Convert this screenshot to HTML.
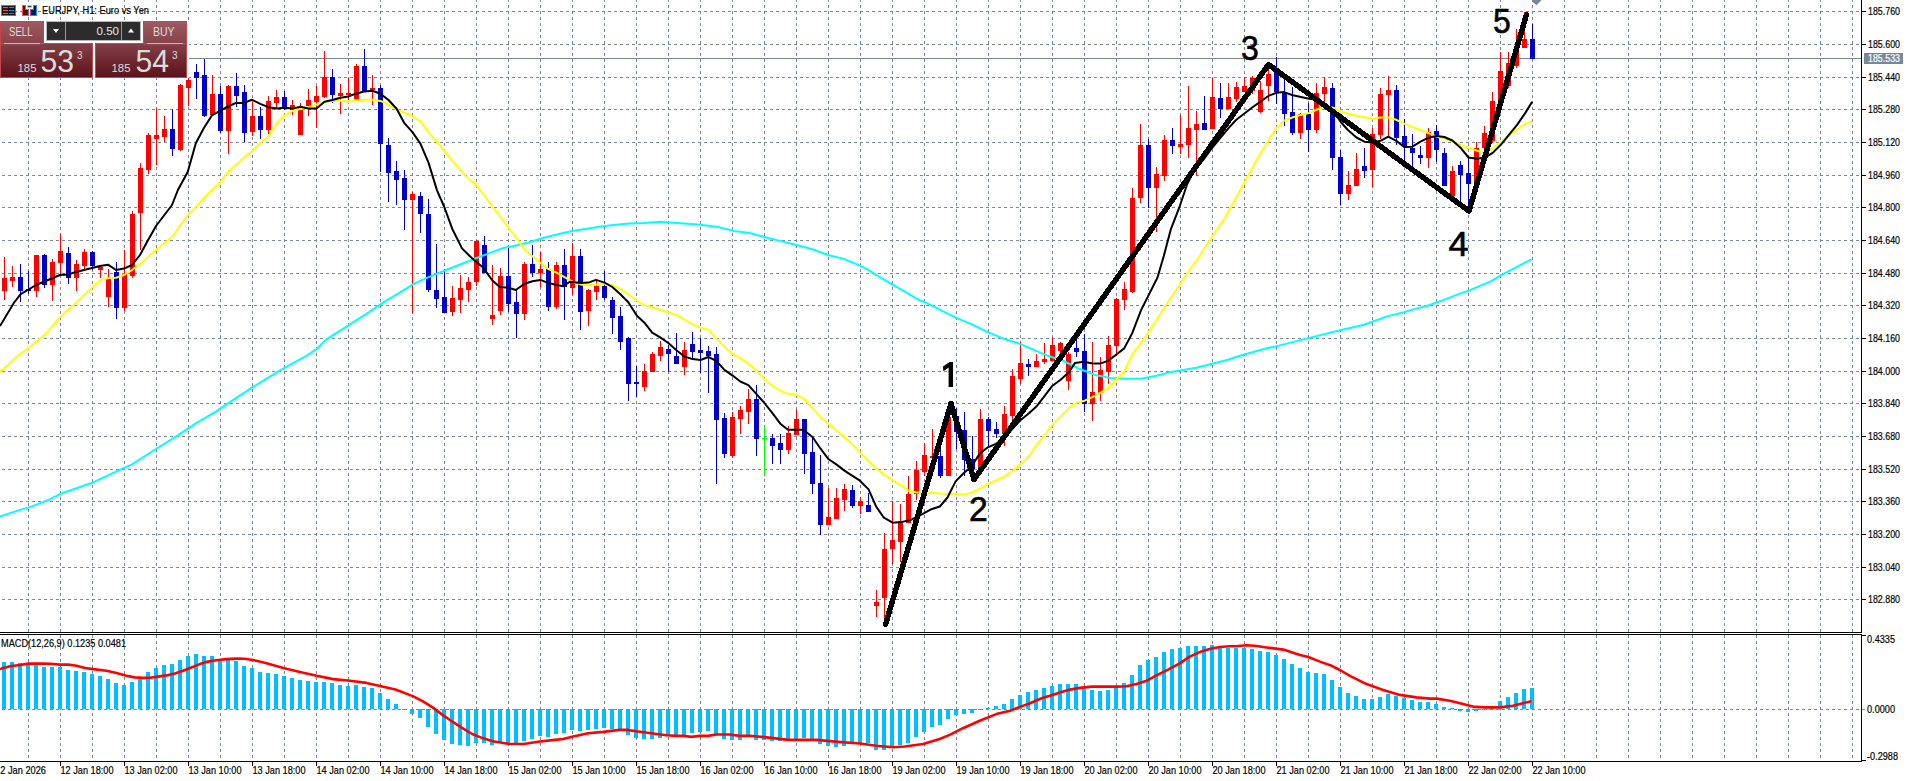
<!DOCTYPE html>
<html><head><meta charset="utf-8"><title>EURJPY H1</title>
<style>html,body{margin:0;padding:0;background:#fff;}body{width:1910px;height:781px;overflow:hidden;font-family:"Liberation Sans", sans-serif;}svg{display:block;}</style>
</head><body>
<svg width="1910" height="781" viewBox="0 0 1910 781"><g stroke="#778899" stroke-width="1" stroke-dasharray="3 3" shape-rendering="crispEdges"><line x1="0" y1="11.5" x2="1861" y2="11.5" stroke-dashoffset="4"/><line x1="0" y1="44.5" x2="1861" y2="44.5" stroke-dashoffset="4"/><line x1="0" y1="77.5" x2="1861" y2="77.5" stroke-dashoffset="4"/><line x1="0" y1="109.5" x2="1861" y2="109.5" stroke-dashoffset="4"/><line x1="0" y1="142.5" x2="1861" y2="142.5" stroke-dashoffset="4"/><line x1="0" y1="175.5" x2="1861" y2="175.5" stroke-dashoffset="4"/><line x1="0" y1="207.5" x2="1861" y2="207.5" stroke-dashoffset="4"/><line x1="0" y1="240.5" x2="1861" y2="240.5" stroke-dashoffset="4"/><line x1="0" y1="273.5" x2="1861" y2="273.5" stroke-dashoffset="4"/><line x1="0" y1="305.5" x2="1861" y2="305.5" stroke-dashoffset="4"/><line x1="0" y1="338.5" x2="1861" y2="338.5" stroke-dashoffset="4"/><line x1="0" y1="371.5" x2="1861" y2="371.5" stroke-dashoffset="4"/><line x1="0" y1="403.5" x2="1861" y2="403.5" stroke-dashoffset="4"/><line x1="0" y1="436.5" x2="1861" y2="436.5" stroke-dashoffset="4"/><line x1="0" y1="469.5" x2="1861" y2="469.5" stroke-dashoffset="4"/><line x1="0" y1="501.5" x2="1861" y2="501.5" stroke-dashoffset="4"/><line x1="0" y1="534.5" x2="1861" y2="534.5" stroke-dashoffset="4"/><line x1="0" y1="567.5" x2="1861" y2="567.5" stroke-dashoffset="4"/><line x1="0" y1="599.5" x2="1861" y2="599.5" stroke-dashoffset="4"/><line x1="0" y1="709.5" x2="1865" y2="709.5" stroke-dashoffset="4"/><line x1="28.5" y1="0" x2="28.5" y2="632" stroke-dashoffset="1"/><line x1="28.5" y1="635" x2="28.5" y2="761" stroke-dashoffset="0"/><line x1="60.5" y1="0" x2="60.5" y2="632" stroke-dashoffset="1"/><line x1="60.5" y1="635" x2="60.5" y2="761" stroke-dashoffset="0"/><line x1="92.5" y1="0" x2="92.5" y2="632" stroke-dashoffset="1"/><line x1="92.5" y1="635" x2="92.5" y2="761" stroke-dashoffset="0"/><line x1="124.5" y1="0" x2="124.5" y2="632" stroke-dashoffset="1"/><line x1="124.5" y1="635" x2="124.5" y2="761" stroke-dashoffset="0"/><line x1="156.5" y1="0" x2="156.5" y2="632" stroke-dashoffset="1"/><line x1="156.5" y1="635" x2="156.5" y2="761" stroke-dashoffset="0"/><line x1="188.5" y1="0" x2="188.5" y2="632" stroke-dashoffset="1"/><line x1="188.5" y1="635" x2="188.5" y2="761" stroke-dashoffset="0"/><line x1="220.5" y1="0" x2="220.5" y2="632" stroke-dashoffset="1"/><line x1="220.5" y1="635" x2="220.5" y2="761" stroke-dashoffset="0"/><line x1="252.5" y1="0" x2="252.5" y2="632" stroke-dashoffset="1"/><line x1="252.5" y1="635" x2="252.5" y2="761" stroke-dashoffset="0"/><line x1="284.5" y1="0" x2="284.5" y2="632" stroke-dashoffset="1"/><line x1="284.5" y1="635" x2="284.5" y2="761" stroke-dashoffset="0"/><line x1="316.5" y1="0" x2="316.5" y2="632" stroke-dashoffset="1"/><line x1="316.5" y1="635" x2="316.5" y2="761" stroke-dashoffset="0"/><line x1="348.5" y1="0" x2="348.5" y2="632" stroke-dashoffset="1"/><line x1="348.5" y1="635" x2="348.5" y2="761" stroke-dashoffset="0"/><line x1="380.5" y1="0" x2="380.5" y2="632" stroke-dashoffset="1"/><line x1="380.5" y1="635" x2="380.5" y2="761" stroke-dashoffset="0"/><line x1="412.5" y1="0" x2="412.5" y2="632" stroke-dashoffset="1"/><line x1="412.5" y1="635" x2="412.5" y2="761" stroke-dashoffset="0"/><line x1="444.5" y1="0" x2="444.5" y2="632" stroke-dashoffset="1"/><line x1="444.5" y1="635" x2="444.5" y2="761" stroke-dashoffset="0"/><line x1="476.5" y1="0" x2="476.5" y2="632" stroke-dashoffset="1"/><line x1="476.5" y1="635" x2="476.5" y2="761" stroke-dashoffset="0"/><line x1="508.5" y1="0" x2="508.5" y2="632" stroke-dashoffset="1"/><line x1="508.5" y1="635" x2="508.5" y2="761" stroke-dashoffset="0"/><line x1="540.5" y1="0" x2="540.5" y2="632" stroke-dashoffset="1"/><line x1="540.5" y1="635" x2="540.5" y2="761" stroke-dashoffset="0"/><line x1="572.5" y1="0" x2="572.5" y2="632" stroke-dashoffset="1"/><line x1="572.5" y1="635" x2="572.5" y2="761" stroke-dashoffset="0"/><line x1="604.5" y1="0" x2="604.5" y2="632" stroke-dashoffset="1"/><line x1="604.5" y1="635" x2="604.5" y2="761" stroke-dashoffset="0"/><line x1="636.5" y1="0" x2="636.5" y2="632" stroke-dashoffset="1"/><line x1="636.5" y1="635" x2="636.5" y2="761" stroke-dashoffset="0"/><line x1="668.5" y1="0" x2="668.5" y2="632" stroke-dashoffset="1"/><line x1="668.5" y1="635" x2="668.5" y2="761" stroke-dashoffset="0"/><line x1="700.5" y1="0" x2="700.5" y2="632" stroke-dashoffset="1"/><line x1="700.5" y1="635" x2="700.5" y2="761" stroke-dashoffset="0"/><line x1="732.5" y1="0" x2="732.5" y2="632" stroke-dashoffset="1"/><line x1="732.5" y1="635" x2="732.5" y2="761" stroke-dashoffset="0"/><line x1="764.5" y1="0" x2="764.5" y2="632" stroke-dashoffset="1"/><line x1="764.5" y1="635" x2="764.5" y2="761" stroke-dashoffset="0"/><line x1="796.5" y1="0" x2="796.5" y2="632" stroke-dashoffset="1"/><line x1="796.5" y1="635" x2="796.5" y2="761" stroke-dashoffset="0"/><line x1="828.5" y1="0" x2="828.5" y2="632" stroke-dashoffset="1"/><line x1="828.5" y1="635" x2="828.5" y2="761" stroke-dashoffset="0"/><line x1="860.5" y1="0" x2="860.5" y2="632" stroke-dashoffset="1"/><line x1="860.5" y1="635" x2="860.5" y2="761" stroke-dashoffset="0"/><line x1="892.5" y1="0" x2="892.5" y2="632" stroke-dashoffset="1"/><line x1="892.5" y1="635" x2="892.5" y2="761" stroke-dashoffset="0"/><line x1="924.5" y1="0" x2="924.5" y2="632" stroke-dashoffset="1"/><line x1="924.5" y1="635" x2="924.5" y2="761" stroke-dashoffset="0"/><line x1="956.5" y1="0" x2="956.5" y2="632" stroke-dashoffset="1"/><line x1="956.5" y1="635" x2="956.5" y2="761" stroke-dashoffset="0"/><line x1="988.5" y1="0" x2="988.5" y2="632" stroke-dashoffset="1"/><line x1="988.5" y1="635" x2="988.5" y2="761" stroke-dashoffset="0"/><line x1="1020.5" y1="0" x2="1020.5" y2="632" stroke-dashoffset="1"/><line x1="1020.5" y1="635" x2="1020.5" y2="761" stroke-dashoffset="0"/><line x1="1052.5" y1="0" x2="1052.5" y2="632" stroke-dashoffset="1"/><line x1="1052.5" y1="635" x2="1052.5" y2="761" stroke-dashoffset="0"/><line x1="1084.5" y1="0" x2="1084.5" y2="632" stroke-dashoffset="1"/><line x1="1084.5" y1="635" x2="1084.5" y2="761" stroke-dashoffset="0"/><line x1="1116.5" y1="0" x2="1116.5" y2="632" stroke-dashoffset="1"/><line x1="1116.5" y1="635" x2="1116.5" y2="761" stroke-dashoffset="0"/><line x1="1148.5" y1="0" x2="1148.5" y2="632" stroke-dashoffset="1"/><line x1="1148.5" y1="635" x2="1148.5" y2="761" stroke-dashoffset="0"/><line x1="1180.5" y1="0" x2="1180.5" y2="632" stroke-dashoffset="1"/><line x1="1180.5" y1="635" x2="1180.5" y2="761" stroke-dashoffset="0"/><line x1="1212.5" y1="0" x2="1212.5" y2="632" stroke-dashoffset="1"/><line x1="1212.5" y1="635" x2="1212.5" y2="761" stroke-dashoffset="0"/><line x1="1244.5" y1="0" x2="1244.5" y2="632" stroke-dashoffset="1"/><line x1="1244.5" y1="635" x2="1244.5" y2="761" stroke-dashoffset="0"/><line x1="1276.5" y1="0" x2="1276.5" y2="632" stroke-dashoffset="1"/><line x1="1276.5" y1="635" x2="1276.5" y2="761" stroke-dashoffset="0"/><line x1="1308.5" y1="0" x2="1308.5" y2="632" stroke-dashoffset="1"/><line x1="1308.5" y1="635" x2="1308.5" y2="761" stroke-dashoffset="0"/><line x1="1340.5" y1="0" x2="1340.5" y2="632" stroke-dashoffset="1"/><line x1="1340.5" y1="635" x2="1340.5" y2="761" stroke-dashoffset="0"/><line x1="1372.5" y1="0" x2="1372.5" y2="632" stroke-dashoffset="1"/><line x1="1372.5" y1="635" x2="1372.5" y2="761" stroke-dashoffset="0"/><line x1="1404.5" y1="0" x2="1404.5" y2="632" stroke-dashoffset="1"/><line x1="1404.5" y1="635" x2="1404.5" y2="761" stroke-dashoffset="0"/><line x1="1436.5" y1="0" x2="1436.5" y2="632" stroke-dashoffset="1"/><line x1="1436.5" y1="635" x2="1436.5" y2="761" stroke-dashoffset="0"/><line x1="1468.5" y1="0" x2="1468.5" y2="632" stroke-dashoffset="1"/><line x1="1468.5" y1="635" x2="1468.5" y2="761" stroke-dashoffset="0"/><line x1="1500.5" y1="0" x2="1500.5" y2="632" stroke-dashoffset="1"/><line x1="1500.5" y1="635" x2="1500.5" y2="761" stroke-dashoffset="0"/><line x1="1532.5" y1="0" x2="1532.5" y2="632" stroke-dashoffset="1"/><line x1="1532.5" y1="635" x2="1532.5" y2="761" stroke-dashoffset="0"/><line x1="1564.5" y1="0" x2="1564.5" y2="632" stroke-dashoffset="1"/><line x1="1564.5" y1="635" x2="1564.5" y2="761" stroke-dashoffset="0"/><line x1="1596.5" y1="0" x2="1596.5" y2="632" stroke-dashoffset="1"/><line x1="1596.5" y1="635" x2="1596.5" y2="761" stroke-dashoffset="0"/><line x1="1628.5" y1="0" x2="1628.5" y2="632" stroke-dashoffset="1"/><line x1="1628.5" y1="635" x2="1628.5" y2="761" stroke-dashoffset="0"/><line x1="1660.5" y1="0" x2="1660.5" y2="632" stroke-dashoffset="1"/><line x1="1660.5" y1="635" x2="1660.5" y2="761" stroke-dashoffset="0"/><line x1="1692.5" y1="0" x2="1692.5" y2="632" stroke-dashoffset="1"/><line x1="1692.5" y1="635" x2="1692.5" y2="761" stroke-dashoffset="0"/><line x1="1724.5" y1="0" x2="1724.5" y2="632" stroke-dashoffset="1"/><line x1="1724.5" y1="635" x2="1724.5" y2="761" stroke-dashoffset="0"/><line x1="1756.5" y1="0" x2="1756.5" y2="632" stroke-dashoffset="1"/><line x1="1756.5" y1="635" x2="1756.5" y2="761" stroke-dashoffset="0"/><line x1="1788.5" y1="0" x2="1788.5" y2="632" stroke-dashoffset="1"/><line x1="1788.5" y1="635" x2="1788.5" y2="761" stroke-dashoffset="0"/><line x1="1820.5" y1="0" x2="1820.5" y2="632" stroke-dashoffset="1"/><line x1="1820.5" y1="635" x2="1820.5" y2="761" stroke-dashoffset="0"/><line x1="1852.5" y1="0" x2="1852.5" y2="632" stroke-dashoffset="1"/><line x1="1852.5" y1="635" x2="1852.5" y2="761" stroke-dashoffset="0"/></g>
<line x1="189" y1="58.5" x2="1861" y2="58.5" stroke="#778899" stroke-width="1" shape-rendering="crispEdges"/>
<g shape-rendering="crispEdges"><rect x="4" y="257" width="1" height="43" fill="#ff0000"/><rect x="2" y="278" width="5" height="13" fill="#ff0000"/><rect x="12" y="266" width="1" height="21" fill="#ff0000"/><rect x="10" y="277" width="5" height="4" fill="#ff0000"/><rect x="20" y="264" width="1" height="38" fill="#0000cd"/><rect x="18" y="277" width="5" height="14" fill="#0000cd"/><rect x="28" y="271" width="1" height="23" fill="#0000cd"/><rect x="26" y="289" width="5" height="2" fill="#0000cd"/><rect x="36" y="255" width="1" height="42" fill="#ff0000"/><rect x="34" y="255" width="5" height="36" fill="#ff0000"/><rect x="44" y="254" width="1" height="34" fill="#0000cd"/><rect x="42" y="255" width="5" height="30" fill="#0000cd"/><rect x="52" y="259" width="1" height="42" fill="#ff0000"/><rect x="50" y="262" width="5" height="23" fill="#ff0000"/><rect x="60" y="234" width="1" height="40" fill="#ff0000"/><rect x="58" y="251" width="5" height="12" fill="#ff0000"/><rect x="68" y="247" width="1" height="37" fill="#0000cd"/><rect x="66" y="253" width="5" height="25" fill="#0000cd"/><rect x="76" y="260" width="1" height="31" fill="#ff0000"/><rect x="74" y="264" width="5" height="14" fill="#ff0000"/><rect x="84" y="249" width="1" height="20" fill="#ff0000"/><rect x="82" y="252" width="5" height="14" fill="#ff0000"/><rect x="92" y="251" width="1" height="19" fill="#0000cd"/><rect x="90" y="252" width="5" height="14" fill="#0000cd"/><rect x="100" y="267" width="1" height="11" fill="#ff0000"/><rect x="98" y="267" width="5" height="3" fill="#ff0000"/><rect x="108" y="269" width="1" height="38" fill="#ff0000"/><rect x="106" y="279" width="5" height="18" fill="#ff0000"/><rect x="116" y="262" width="1" height="57" fill="#0000cd"/><rect x="114" y="272" width="5" height="36" fill="#0000cd"/><rect x="124" y="250" width="1" height="61" fill="#ff0000"/><rect x="122" y="274" width="5" height="34" fill="#ff0000"/><rect x="132" y="211" width="1" height="67" fill="#ff0000"/><rect x="130" y="214" width="5" height="62" fill="#ff0000"/><rect x="140" y="163" width="1" height="87" fill="#ff0000"/><rect x="138" y="168" width="5" height="45" fill="#ff0000"/><rect x="148" y="133" width="1" height="41" fill="#ff0000"/><rect x="146" y="135" width="5" height="35" fill="#ff0000"/><rect x="156" y="108" width="1" height="57" fill="#ff0000"/><rect x="154" y="135" width="5" height="4" fill="#ff0000"/><rect x="164" y="116" width="1" height="26" fill="#ff0000"/><rect x="162" y="129" width="5" height="8" fill="#ff0000"/><rect x="172" y="109" width="1" height="47" fill="#0000cd"/><rect x="170" y="129" width="5" height="20" fill="#0000cd"/><rect x="180" y="84" width="1" height="67" fill="#ff0000"/><rect x="178" y="85" width="5" height="65" fill="#ff0000"/><rect x="188" y="74" width="1" height="32" fill="#ff0000"/><rect x="186" y="80" width="5" height="8" fill="#ff0000"/><rect x="196" y="64" width="1" height="35" fill="#0000cd"/><rect x="194" y="72" width="5" height="6" fill="#0000cd"/><rect x="204" y="59" width="1" height="58" fill="#0000cd"/><rect x="202" y="75" width="5" height="41" fill="#0000cd"/><rect x="212" y="75" width="1" height="40" fill="#ff0000"/><rect x="210" y="94" width="5" height="21" fill="#ff0000"/><rect x="220" y="86" width="1" height="47" fill="#0000cd"/><rect x="218" y="94" width="5" height="37" fill="#0000cd"/><rect x="228" y="85" width="1" height="69" fill="#ff0000"/><rect x="226" y="86" width="5" height="45" fill="#ff0000"/><rect x="236" y="73" width="1" height="34" fill="#0000cd"/><rect x="234" y="86" width="5" height="10" fill="#0000cd"/><rect x="244" y="85" width="1" height="57" fill="#0000cd"/><rect x="242" y="92" width="5" height="41" fill="#0000cd"/><rect x="252" y="102" width="1" height="34" fill="#ff0000"/><rect x="250" y="116" width="5" height="16" fill="#ff0000"/><rect x="260" y="107" width="1" height="32" fill="#0000cd"/><rect x="258" y="116" width="5" height="14" fill="#0000cd"/><rect x="268" y="96" width="1" height="38" fill="#ff0000"/><rect x="266" y="101" width="5" height="29" fill="#ff0000"/><rect x="276" y="90" width="1" height="18" fill="#ff0000"/><rect x="274" y="97" width="5" height="6" fill="#ff0000"/><rect x="284" y="91" width="1" height="19" fill="#0000cd"/><rect x="282" y="97" width="5" height="12" fill="#0000cd"/><rect x="292" y="100" width="1" height="15" fill="#ff0000"/><rect x="290" y="105" width="5" height="5" fill="#ff0000"/><rect x="300" y="103" width="1" height="32" fill="#ff0000"/><rect x="298" y="108" width="5" height="27" fill="#ff0000"/><rect x="308" y="89" width="1" height="27" fill="#ff0000"/><rect x="306" y="100" width="5" height="6" fill="#ff0000"/><rect x="316" y="86" width="1" height="42" fill="#ff0000"/><rect x="314" y="96" width="5" height="6" fill="#ff0000"/><rect x="324" y="51" width="1" height="47" fill="#ff0000"/><rect x="322" y="77" width="5" height="20" fill="#ff0000"/><rect x="332" y="69" width="1" height="34" fill="#0000cd"/><rect x="330" y="77" width="5" height="18" fill="#0000cd"/><rect x="340" y="84" width="1" height="30" fill="#ff0000"/><rect x="338" y="93" width="5" height="3" fill="#ff0000"/><rect x="348" y="78" width="1" height="22" fill="#ff0000"/><rect x="346" y="93" width="5" height="2" fill="#ff0000"/><rect x="356" y="64" width="1" height="36" fill="#ff0000"/><rect x="354" y="66" width="5" height="33" fill="#ff0000"/><rect x="364" y="49" width="1" height="42" fill="#0000cd"/><rect x="362" y="66" width="5" height="25" fill="#0000cd"/><rect x="372" y="75" width="1" height="30" fill="#ff0000"/><rect x="370" y="88" width="5" height="2" fill="#ff0000"/><rect x="380" y="85" width="1" height="87" fill="#0000cd"/><rect x="378" y="88" width="5" height="56" fill="#0000cd"/><rect x="388" y="138" width="1" height="64" fill="#0000cd"/><rect x="386" y="145" width="5" height="28" fill="#0000cd"/><rect x="396" y="161" width="1" height="44" fill="#0000cd"/><rect x="394" y="171" width="5" height="9" fill="#0000cd"/><rect x="404" y="170" width="1" height="60" fill="#0000cd"/><rect x="402" y="178" width="5" height="22" fill="#0000cd"/><rect x="412" y="192" width="1" height="121" fill="#ff0000"/><rect x="410" y="194" width="5" height="6" fill="#ff0000"/><rect x="420" y="192" width="1" height="41" fill="#0000cd"/><rect x="418" y="196" width="5" height="18" fill="#0000cd"/><rect x="428" y="199" width="1" height="93" fill="#0000cd"/><rect x="426" y="214" width="5" height="76" fill="#0000cd"/><rect x="436" y="244" width="1" height="64" fill="#0000cd"/><rect x="434" y="290" width="5" height="9" fill="#0000cd"/><rect x="444" y="269" width="1" height="44" fill="#0000cd"/><rect x="442" y="297" width="5" height="16" fill="#0000cd"/><rect x="452" y="286" width="1" height="30" fill="#ff0000"/><rect x="450" y="298" width="5" height="14" fill="#ff0000"/><rect x="460" y="275" width="1" height="38" fill="#ff0000"/><rect x="458" y="288" width="5" height="12" fill="#ff0000"/><rect x="468" y="277" width="1" height="25" fill="#ff0000"/><rect x="466" y="282" width="5" height="8" fill="#ff0000"/><rect x="476" y="240" width="1" height="46" fill="#ff0000"/><rect x="474" y="241" width="5" height="41" fill="#ff0000"/><rect x="484" y="236" width="1" height="37" fill="#0000cd"/><rect x="482" y="245" width="5" height="28" fill="#0000cd"/><rect x="492" y="265" width="1" height="60" fill="#ff0000"/><rect x="490" y="315" width="5" height="4" fill="#ff0000"/><rect x="500" y="268" width="1" height="47" fill="#ff0000"/><rect x="498" y="276" width="5" height="35" fill="#ff0000"/><rect x="508" y="246" width="1" height="66" fill="#0000cd"/><rect x="506" y="276" width="5" height="28" fill="#0000cd"/><rect x="516" y="290" width="1" height="48" fill="#0000cd"/><rect x="514" y="302" width="5" height="12" fill="#0000cd"/><rect x="524" y="262" width="1" height="58" fill="#ff0000"/><rect x="522" y="264" width="5" height="50" fill="#ff0000"/><rect x="532" y="245" width="1" height="32" fill="#0000cd"/><rect x="530" y="264" width="5" height="9" fill="#0000cd"/><rect x="540" y="252" width="1" height="35" fill="#ff0000"/><rect x="538" y="269" width="5" height="4" fill="#ff0000"/><rect x="548" y="262" width="1" height="49" fill="#0000cd"/><rect x="546" y="269" width="5" height="38" fill="#0000cd"/><rect x="556" y="262" width="1" height="47" fill="#ff0000"/><rect x="554" y="265" width="5" height="42" fill="#ff0000"/><rect x="564" y="249" width="1" height="71" fill="#0000cd"/><rect x="562" y="265" width="5" height="22" fill="#0000cd"/><rect x="572" y="243" width="1" height="52" fill="#ff0000"/><rect x="570" y="256" width="5" height="32" fill="#ff0000"/><rect x="580" y="249" width="1" height="81" fill="#0000cd"/><rect x="578" y="256" width="5" height="56" fill="#0000cd"/><rect x="588" y="289" width="1" height="37" fill="#ff0000"/><rect x="586" y="290" width="5" height="21" fill="#ff0000"/><rect x="596" y="281" width="1" height="19" fill="#ff0000"/><rect x="594" y="286" width="5" height="6" fill="#ff0000"/><rect x="604" y="271" width="1" height="29" fill="#0000cd"/><rect x="602" y="286" width="5" height="12" fill="#0000cd"/><rect x="612" y="297" width="1" height="37" fill="#0000cd"/><rect x="610" y="300" width="5" height="18" fill="#0000cd"/><rect x="620" y="307" width="1" height="43" fill="#0000cd"/><rect x="618" y="316" width="5" height="26" fill="#0000cd"/><rect x="628" y="337" width="1" height="64" fill="#0000cd"/><rect x="626" y="338" width="5" height="46" fill="#0000cd"/><rect x="636" y="366" width="1" height="31" fill="#0000cd"/><rect x="634" y="382" width="5" height="2" fill="#0000cd"/><rect x="644" y="364" width="1" height="27" fill="#ff0000"/><rect x="642" y="371" width="5" height="16" fill="#ff0000"/><rect x="652" y="352" width="1" height="20" fill="#ff0000"/><rect x="650" y="354" width="5" height="18" fill="#ff0000"/><rect x="660" y="341" width="1" height="20" fill="#ff0000"/><rect x="658" y="347" width="5" height="9" fill="#ff0000"/><rect x="668" y="345" width="1" height="27" fill="#0000cd"/><rect x="666" y="349" width="5" height="5" fill="#0000cd"/><rect x="676" y="333" width="1" height="31" fill="#0000cd"/><rect x="674" y="356" width="5" height="8" fill="#0000cd"/><rect x="684" y="342" width="1" height="33" fill="#ff0000"/><rect x="682" y="350" width="5" height="17" fill="#ff0000"/><rect x="692" y="332" width="1" height="26" fill="#0000cd"/><rect x="690" y="344" width="5" height="8" fill="#0000cd"/><rect x="700" y="338" width="1" height="35" fill="#0000cd"/><rect x="698" y="350" width="5" height="3" fill="#0000cd"/><rect x="708" y="346" width="1" height="47" fill="#0000cd"/><rect x="706" y="351" width="5" height="5" fill="#0000cd"/><rect x="716" y="347" width="1" height="137" fill="#0000cd"/><rect x="714" y="354" width="5" height="66" fill="#0000cd"/><rect x="724" y="413" width="1" height="45" fill="#0000cd"/><rect x="722" y="418" width="5" height="36" fill="#0000cd"/><rect x="732" y="412" width="1" height="46" fill="#ff0000"/><rect x="730" y="417" width="5" height="39" fill="#ff0000"/><rect x="740" y="406" width="1" height="28" fill="#ff0000"/><rect x="738" y="410" width="5" height="9" fill="#ff0000"/><rect x="748" y="389" width="1" height="35" fill="#ff0000"/><rect x="746" y="399" width="5" height="13" fill="#ff0000"/><rect x="756" y="385" width="1" height="71" fill="#0000cd"/><rect x="754" y="399" width="5" height="40" fill="#0000cd"/><rect x="764" y="426" width="1" height="50" fill="#00ff00"/><rect x="762" y="438" width="5" height="1" fill="#00ff00"/><rect x="772" y="434" width="1" height="30" fill="#0000cd"/><rect x="770" y="438" width="5" height="8" fill="#0000cd"/><rect x="780" y="434" width="1" height="30" fill="#0000cd"/><rect x="778" y="443" width="5" height="7" fill="#0000cd"/><rect x="788" y="426" width="1" height="28" fill="#ff0000"/><rect x="786" y="433" width="5" height="17" fill="#ff0000"/><rect x="796" y="409" width="1" height="26" fill="#ff0000"/><rect x="794" y="419" width="5" height="16" fill="#ff0000"/><rect x="804" y="419" width="1" height="55" fill="#0000cd"/><rect x="802" y="419" width="5" height="35" fill="#0000cd"/><rect x="812" y="437" width="1" height="57" fill="#0000cd"/><rect x="810" y="452" width="5" height="32" fill="#0000cd"/><rect x="820" y="455" width="1" height="80" fill="#0000cd"/><rect x="818" y="483" width="5" height="42" fill="#0000cd"/><rect x="828" y="488" width="1" height="37" fill="#ff0000"/><rect x="826" y="517" width="5" height="8" fill="#ff0000"/><rect x="836" y="488" width="1" height="31" fill="#ff0000"/><rect x="834" y="498" width="5" height="21" fill="#ff0000"/><rect x="844" y="484" width="1" height="27" fill="#ff0000"/><rect x="842" y="489" width="5" height="11" fill="#ff0000"/><rect x="852" y="485" width="1" height="23" fill="#0000cd"/><rect x="850" y="490" width="5" height="16" fill="#0000cd"/><rect x="860" y="497" width="1" height="17" fill="#ff0000"/><rect x="858" y="501" width="5" height="5" fill="#ff0000"/><rect x="868" y="493" width="1" height="19" fill="#0000cd"/><rect x="866" y="505" width="5" height="7" fill="#0000cd"/><rect x="876" y="590" width="1" height="27" fill="#ff0000"/><rect x="874" y="602" width="5" height="4" fill="#ff0000"/><rect x="884" y="533" width="1" height="93" fill="#ff0000"/><rect x="882" y="549" width="5" height="49" fill="#ff0000"/><rect x="892" y="501" width="1" height="63" fill="#ff0000"/><rect x="890" y="540" width="5" height="9" fill="#ff0000"/><rect x="900" y="504" width="1" height="58" fill="#ff0000"/><rect x="898" y="521" width="5" height="21" fill="#ff0000"/><rect x="908" y="476" width="1" height="47" fill="#ff0000"/><rect x="906" y="494" width="5" height="29" fill="#ff0000"/><rect x="916" y="461" width="1" height="39" fill="#ff0000"/><rect x="914" y="470" width="5" height="24" fill="#ff0000"/><rect x="924" y="443" width="1" height="33" fill="#ff0000"/><rect x="922" y="455" width="5" height="17" fill="#ff0000"/><rect x="932" y="429" width="1" height="31" fill="#ff0000"/><rect x="930" y="456" width="5" height="2" fill="#ff0000"/><rect x="940" y="447" width="1" height="31" fill="#0000cd"/><rect x="938" y="456" width="5" height="20" fill="#0000cd"/><rect x="948" y="414" width="1" height="62" fill="#ff0000"/><rect x="946" y="417" width="5" height="59" fill="#ff0000"/><rect x="956" y="408" width="1" height="41" fill="#0000cd"/><rect x="954" y="416" width="5" height="16" fill="#0000cd"/><rect x="964" y="412" width="1" height="64" fill="#0000cd"/><rect x="962" y="430" width="5" height="30" fill="#0000cd"/><rect x="972" y="436" width="1" height="33" fill="#0000cd"/><rect x="970" y="459" width="5" height="10" fill="#0000cd"/><rect x="980" y="409" width="1" height="59" fill="#ff0000"/><rect x="978" y="419" width="5" height="49" fill="#ff0000"/><rect x="988" y="417" width="1" height="29" fill="#0000cd"/><rect x="986" y="419" width="5" height="12" fill="#0000cd"/><rect x="996" y="422" width="1" height="16" fill="#0000cd"/><rect x="994" y="429" width="5" height="5" fill="#0000cd"/><rect x="1004" y="406" width="1" height="40" fill="#ff0000"/><rect x="1002" y="414" width="5" height="20" fill="#ff0000"/><rect x="1012" y="369" width="1" height="53" fill="#ff0000"/><rect x="1010" y="376" width="5" height="40" fill="#ff0000"/><rect x="1020" y="342" width="1" height="42" fill="#ff0000"/><rect x="1018" y="363" width="5" height="16" fill="#ff0000"/><rect x="1028" y="359" width="1" height="17" fill="#0000cd"/><rect x="1026" y="364" width="5" height="3" fill="#0000cd"/><rect x="1036" y="354" width="1" height="13" fill="#ff0000"/><rect x="1034" y="361" width="5" height="6" fill="#ff0000"/><rect x="1044" y="343" width="1" height="21" fill="#ff0000"/><rect x="1042" y="359" width="5" height="3" fill="#ff0000"/><rect x="1052" y="337" width="1" height="24" fill="#ff0000"/><rect x="1050" y="345" width="5" height="16" fill="#ff0000"/><rect x="1060" y="342" width="1" height="12" fill="#ff0000"/><rect x="1058" y="343" width="5" height="8" fill="#ff0000"/><rect x="1068" y="352" width="1" height="38" fill="#ff0000"/><rect x="1066" y="354" width="5" height="27" fill="#ff0000"/><rect x="1076" y="331" width="1" height="26" fill="#0000cd"/><rect x="1074" y="348" width="5" height="4" fill="#0000cd"/><rect x="1084" y="334" width="1" height="78" fill="#0000cd"/><rect x="1082" y="351" width="5" height="53" fill="#0000cd"/><rect x="1092" y="342" width="1" height="79" fill="#ff0000"/><rect x="1090" y="392" width="5" height="12" fill="#ff0000"/><rect x="1100" y="357" width="1" height="44" fill="#ff0000"/><rect x="1098" y="370" width="5" height="23" fill="#ff0000"/><rect x="1108" y="336" width="1" height="48" fill="#ff0000"/><rect x="1106" y="345" width="5" height="27" fill="#ff0000"/><rect x="1116" y="298" width="1" height="55" fill="#ff0000"/><rect x="1114" y="299" width="5" height="47" fill="#ff0000"/><rect x="1124" y="282" width="1" height="28" fill="#ff0000"/><rect x="1122" y="289" width="5" height="11" fill="#ff0000"/><rect x="1132" y="188" width="1" height="105" fill="#ff0000"/><rect x="1130" y="198" width="5" height="94" fill="#ff0000"/><rect x="1140" y="124" width="1" height="79" fill="#ff0000"/><rect x="1138" y="145" width="5" height="53" fill="#ff0000"/><rect x="1148" y="139" width="1" height="69" fill="#0000cd"/><rect x="1146" y="145" width="5" height="43" fill="#0000cd"/><rect x="1156" y="167" width="1" height="65" fill="#ff0000"/><rect x="1154" y="174" width="5" height="14" fill="#ff0000"/><rect x="1164" y="135" width="1" height="46" fill="#ff0000"/><rect x="1162" y="140" width="5" height="36" fill="#ff0000"/><rect x="1172" y="128" width="1" height="26" fill="#0000cd"/><rect x="1170" y="140" width="5" height="6" fill="#0000cd"/><rect x="1180" y="115" width="1" height="39" fill="#ff0000"/><rect x="1178" y="144" width="5" height="3" fill="#ff0000"/><rect x="1188" y="86" width="1" height="72" fill="#ff0000"/><rect x="1186" y="128" width="5" height="17" fill="#ff0000"/><rect x="1196" y="111" width="1" height="65" fill="#ff0000"/><rect x="1194" y="124" width="5" height="6" fill="#ff0000"/><rect x="1204" y="96" width="1" height="34" fill="#0000cd"/><rect x="1202" y="123" width="5" height="7" fill="#0000cd"/><rect x="1212" y="78" width="1" height="51" fill="#ff0000"/><rect x="1210" y="97" width="5" height="32" fill="#ff0000"/><rect x="1220" y="83" width="1" height="35" fill="#0000cd"/><rect x="1218" y="98" width="5" height="11" fill="#0000cd"/><rect x="1228" y="83" width="1" height="26" fill="#ff0000"/><rect x="1226" y="97" width="5" height="12" fill="#ff0000"/><rect x="1236" y="82" width="1" height="20" fill="#ff0000"/><rect x="1234" y="87" width="5" height="12" fill="#ff0000"/><rect x="1244" y="77" width="1" height="15" fill="#ff0000"/><rect x="1242" y="86" width="5" height="6" fill="#ff0000"/><rect x="1252" y="76" width="1" height="18" fill="#ff0000"/><rect x="1250" y="78" width="5" height="13" fill="#ff0000"/><rect x="1260" y="81" width="1" height="32" fill="#ff0000"/><rect x="1258" y="90" width="5" height="22" fill="#ff0000"/><rect x="1268" y="68" width="1" height="33" fill="#ff0000"/><rect x="1266" y="74" width="5" height="12" fill="#ff0000"/><rect x="1276" y="57" width="1" height="47" fill="#0000cd"/><rect x="1274" y="70" width="5" height="22" fill="#0000cd"/><rect x="1284" y="77" width="1" height="49" fill="#0000cd"/><rect x="1282" y="92" width="5" height="22" fill="#0000cd"/><rect x="1292" y="87" width="1" height="48" fill="#0000cd"/><rect x="1290" y="112" width="5" height="21" fill="#0000cd"/><rect x="1300" y="113" width="1" height="26" fill="#ff0000"/><rect x="1298" y="114" width="5" height="19" fill="#ff0000"/><rect x="1308" y="103" width="1" height="49" fill="#0000cd"/><rect x="1306" y="114" width="5" height="16" fill="#0000cd"/><rect x="1316" y="83" width="1" height="50" fill="#ff0000"/><rect x="1314" y="93" width="5" height="37" fill="#ff0000"/><rect x="1324" y="77" width="1" height="32" fill="#ff0000"/><rect x="1322" y="87" width="5" height="7" fill="#ff0000"/><rect x="1332" y="83" width="1" height="87" fill="#0000cd"/><rect x="1330" y="88" width="5" height="70" fill="#0000cd"/><rect x="1340" y="150" width="1" height="55" fill="#0000cd"/><rect x="1338" y="157" width="5" height="37" fill="#0000cd"/><rect x="1348" y="171" width="1" height="29" fill="#ff0000"/><rect x="1346" y="185" width="5" height="9" fill="#ff0000"/><rect x="1356" y="153" width="1" height="33" fill="#ff0000"/><rect x="1354" y="169" width="5" height="17" fill="#ff0000"/><rect x="1364" y="148" width="1" height="30" fill="#0000cd"/><rect x="1362" y="166" width="5" height="5" fill="#0000cd"/><rect x="1372" y="128" width="1" height="59" fill="#ff0000"/><rect x="1370" y="134" width="5" height="36" fill="#ff0000"/><rect x="1380" y="88" width="1" height="51" fill="#ff0000"/><rect x="1378" y="94" width="5" height="41" fill="#ff0000"/><rect x="1388" y="76" width="1" height="62" fill="#ff0000"/><rect x="1386" y="90" width="5" height="5" fill="#ff0000"/><rect x="1396" y="85" width="1" height="60" fill="#0000cd"/><rect x="1394" y="90" width="5" height="48" fill="#0000cd"/><rect x="1404" y="119" width="1" height="41" fill="#0000cd"/><rect x="1402" y="136" width="5" height="10" fill="#0000cd"/><rect x="1412" y="134" width="1" height="32" fill="#0000cd"/><rect x="1410" y="148" width="5" height="5" fill="#0000cd"/><rect x="1420" y="146" width="1" height="18" fill="#0000cd"/><rect x="1418" y="155" width="5" height="3" fill="#0000cd"/><rect x="1428" y="128" width="1" height="40" fill="#ff0000"/><rect x="1426" y="132" width="5" height="26" fill="#ff0000"/><rect x="1436" y="125" width="1" height="37" fill="#0000cd"/><rect x="1434" y="131" width="5" height="19" fill="#0000cd"/><rect x="1444" y="148" width="1" height="38" fill="#0000cd"/><rect x="1442" y="153" width="5" height="33" fill="#0000cd"/><rect x="1452" y="166" width="1" height="32" fill="#ff0000"/><rect x="1450" y="171" width="5" height="25" fill="#ff0000"/><rect x="1460" y="161" width="1" height="42" fill="#0000cd"/><rect x="1458" y="165" width="5" height="10" fill="#0000cd"/><rect x="1468" y="156" width="1" height="52" fill="#0000cd"/><rect x="1466" y="173" width="5" height="11" fill="#0000cd"/><rect x="1476" y="142" width="1" height="43" fill="#ff0000"/><rect x="1474" y="148" width="5" height="35" fill="#ff0000"/><rect x="1484" y="126" width="1" height="24" fill="#ff0000"/><rect x="1482" y="133" width="5" height="15" fill="#ff0000"/><rect x="1492" y="92" width="1" height="51" fill="#ff0000"/><rect x="1490" y="101" width="5" height="40" fill="#ff0000"/><rect x="1500" y="52" width="1" height="51" fill="#ff0000"/><rect x="1498" y="71" width="5" height="30" fill="#ff0000"/><rect x="1508" y="52" width="1" height="36" fill="#ff0000"/><rect x="1506" y="63" width="5" height="23" fill="#ff0000"/><rect x="1516" y="29" width="1" height="39" fill="#ff0000"/><rect x="1514" y="46" width="5" height="20" fill="#ff0000"/><rect x="1524" y="12" width="1" height="36" fill="#ff0000"/><rect x="1522" y="39" width="5" height="9" fill="#ff0000"/><rect x="1532" y="24" width="1" height="35" fill="#0000cd"/><rect x="1530" y="39" width="5" height="20" fill="#0000cd"/></g>
<polyline points="0.0,516.6 18.4,510.4 29.2,507.4 49.2,499.7 61.4,493.5 92.2,482.8 122.9,468.4 132.1,464.4 153.6,450.5 178.2,435.2 196.6,422.9 215.0,412.1 227.3,403.8 251.9,387.6 279.6,370.7 307.2,355.3 316.4,349.2 325.7,339.9 347.2,326.1 368.7,312.3 385.0,301.3 399.3,292.8 413.7,283.9 428.0,277.4 444.1,270.8 460.3,264.5 474.6,258.8 488.9,253.4 503.3,248.0 515.0,245.8 529.3,242.3 543.7,237.8 558.0,234.2 572.3,231.1 586.7,228.8 601.0,226.5 615.4,224.7 629.7,223.4 644.0,222.9 660.5,221.7 676.2,223.0 691.9,224.1 702.4,224.9 718.0,227.0 733.8,230.9 749.5,233.0 765.2,237.2 780.9,241.1 796.6,245.0 812.3,249.2 828.0,255.0 843.7,258.9 859.4,265.4 867.3,269.4 877.7,275.9 893.5,285.1 909.2,294.2 917.0,299.0 930.1,304.7 943.2,311.3 956.3,317.8 972.0,324.3 987.7,332.2 1003.4,338.7 1016.5,342.7 1032.2,349.2 1047.9,355.8 1063.6,361.0 1079.3,368.8 1095.0,374.9 1110.7,378.0 1126.4,378.8 1142.1,378.5 1156.8,375.7 1171.4,371.9 1196.5,367.7 1228.0,359.8 1238.4,356.2 1265.7,348.5 1276.1,346.4 1307.5,338.4 1339.0,330.5 1364.1,324.8 1387.1,316.4 1403.9,312.3 1414.3,309.1 1429.0,305.3 1445.8,299.1 1460.4,293.4 1468.8,290.7 1491.8,280.8 1500.2,275.6 1531.6,259.3" fill="none" stroke="#00ffff" stroke-width="2" stroke-linejoin="round"/>
<polyline points="0.0,372.2 18.4,355.3 29.2,347.6 46.1,333.8 60.0,317.0 76.0,303.0 92.0,287.6 100.0,280.6 108.0,278.0 116.0,277.7 124.0,275.0 132.0,270.0 140.0,264.0 156.0,250.0 172.0,237.0 187.0,216.0 212.0,190.0 220.0,182.6 228.0,171.9 236.0,164.7 244.0,157.5 252.0,151.3 260.0,143.2 268.4,136.8 276.5,123.3 284.6,115.3 292.6,110.8 300.3,109.0 308.4,107.2 316.5,104.5 324.5,101.8 332.4,100.9 340.5,100.6 348.2,101.8 356.4,100.6 364.3,99.7 372.4,99.7 380.4,100.9 388.5,104.5 396.6,109.7 412.4,116.0 420.5,121.4 428.5,132.1 437.0,142.0 453.1,161.7 467.4,177.8 476.4,185.0 492.5,206.5 508.7,228.0 515.0,236.0 524.5,249.4 532.4,256.2 540.4,262.9 548.5,269.1 556.6,272.7 564.5,277.2 572.3,281.7 580.6,284.4 588.5,285.3 596.5,284.4 604.6,283.5 612.3,284.9 620.4,288.9 628.3,294.2 636.9,300.5 645.0,305.4 652.5,307.2 668.3,312.5 676.5,314.7 684.4,319.7 692.5,324.2 700.6,327.8 708.4,329.6 716.3,338.5 724.4,346.6 732.3,353.8 740.3,358.2 748.4,363.6 756.5,370.8 764.4,378.9 772.2,385.7 780.3,390.5 787.0,393.6 796.0,394.5 804.1,399.0 812.2,407.9 820.2,416.9 828.3,423.7 836.3,430.3 844.4,437.5 850.0,442.3 867.5,460.0 876.3,468.7 891.5,479.6 902.4,486.1 908.0,490.4 916.1,492.2 924.2,493.0 932.3,493.0 940.3,493.6 948.4,494.0 956.5,494.0 964.5,494.3 971.7,493.0 979.7,488.6 987.8,484.1 995.9,480.5 1003.9,476.9 1012.0,471.5 1020.0,464.4 1028.1,457.2 1036.2,445.6 1040.8,440.0 1053.4,423.7 1068.6,408.4 1076.7,402.5 1084.7,400.7 1092.8,396.8 1100.9,392.3 1108.0,388.2 1116.1,379.7 1124.2,371.7 1132.2,354.7 1145.0,337.6 1162.9,310.0 1182.0,281.0 1199.6,256.0 1212.2,236.3 1224.7,218.4 1235.4,198.7 1244.4,182.5 1257.9,157.5 1275.8,128.9 1283.9,120.8 1292.9,117.2 1300.9,114.9 1309.0,113.1 1317.0,109.5 1325.1,106.5 1333.2,107.7 1340.8,111.6 1356.5,115.7 1372.5,118.7 1380.5,117.5 1388.2,117.5 1396.3,119.8 1404.4,123.8 1412.4,127.0 1420.5,130.0 1428.6,133.1 1436.6,136.7 1444.3,138.5 1452.4,141.5 1460.5,145.0 1468.5,148.0 1476.6,150.5 1483.8,152.9 1492.7,148.4 1500.8,142.1 1508.9,135.8 1516.9,129.6 1525.0,124.2 1532.2,121.1" fill="none" stroke="#ffff00" stroke-width="2" stroke-linejoin="round"/>
<polyline points="0.0,326.1 13.8,303.0 20.4,294.4 36.0,285.0 60.0,275.0 68.0,274.5 76.0,272.0 92.0,268.0 100.0,266.0 108.0,264.7 116.0,270.0 124.0,268.6 132.0,265.0 140.0,255.0 147.0,242.0 156.0,226.0 172.0,205.0 177.9,190.0 187.7,171.9 195.8,143.2 203.9,128.0 211.9,115.4 220.0,110.9 228.0,106.5 236.0,102.9 244.0,102.9 252.0,99.8 260.3,103.8 268.4,107.2 276.5,108.6 284.6,107.7 292.6,108.6 300.3,106.7 308.4,108.5 316.5,108.5 324.5,101.8 332.4,100.0 340.5,97.7 348.2,96.5 356.4,93.4 364.3,91.6 372.4,90.7 380.4,93.8 388.5,100.0 396.6,108.8 404.4,123.2 412.4,132.1 420.5,143.8 428.5,162.6 437.0,190.4 444.1,206.5 452.2,228.7 462.0,248.4 471.0,257.3 482.7,267.2 492.5,280.6 499.7,286.9 508.7,287.8 515.8,290.0 524.5,283.8 532.4,281.3 540.4,279.9 548.5,283.1 556.6,284.9 563.4,286.2 569.7,281.7 580.6,283.1 588.5,282.6 596.0,279.9 604.6,282.6 612.3,287.0 620.4,294.2 628.3,302.3 636.9,315.7 645.0,323.3 652.2,332.6 660.6,337.6 668.3,343.0 676.5,350.2 684.4,356.5 692.5,359.1 700.6,360.0 708.4,357.0 716.3,360.9 724.4,369.9 732.3,375.3 740.3,381.5 748.4,385.1 756.5,394.1 764.4,403.0 772.2,412.9 780.3,423.7 788.0,429.8 803.2,429.8 812.5,437.0 820.2,448.2 828.3,459.0 836.3,464.4 844.4,470.6 859.9,480.7 868.6,489.4 876.3,506.8 883.9,517.7 892.6,522.7 901.3,522.1 910.8,519.9 923.3,513.7 931.4,509.2 939.8,506.5 947.5,497.5 955.6,481.4 963.6,473.3 971.7,466.2 979.7,453.6 987.8,447.3 995.9,443.8 1003.9,438.4 1012.0,429.4 1020.0,420.5 1029.0,413.3 1036.4,406.6 1052.5,385.7 1060.6,379.7 1068.6,372.6 1074.9,363.1 1083.9,361.8 1092.5,363.6 1100.0,363.6 1108.0,360.9 1116.1,354.7 1124.2,348.4 1132.2,333.2 1141.2,309.9 1157.5,277.5 1163.8,256.0 1170.9,229.1 1179.9,205.8 1187.1,184.3 1194.2,170.0 1204.0,159.0 1212.0,148.0 1220.8,137.3 1228.5,128.2 1236.0,120.0 1252.5,107.3 1268.7,95.7 1276.7,92.7 1283.9,92.1 1292.9,95.2 1300.9,97.0 1309.0,98.7 1317.0,99.8 1325.1,103.8 1333.2,110.9 1340.8,122.0 1347.9,130.0 1356.5,137.5 1364.4,141.7 1372.5,142.6 1380.5,140.8 1388.2,136.7 1396.3,140.8 1404.4,147.1 1412.4,146.7 1420.5,141.7 1428.6,137.7 1436.6,136.0 1444.3,137.0 1452.4,140.5 1460.5,147.7 1468.5,157.5 1476.6,158.8 1484.7,157.7 1492.7,152.9 1500.8,144.8 1508.9,134.9 1516.9,125.1 1525.0,113.4 1532.2,101.8" fill="none" stroke="#000000" stroke-width="2" stroke-linejoin="round"/>
<polyline points="885.5,624.5 951.0,403.5 974.0,479.5 1268.5,64.5 1469.0,211.0 1526.5,14.5" fill="none" stroke="#000" stroke-width="5.5" stroke-linejoin="round" stroke-linecap="round" shape-rendering="crispEdges"/>
<text transform="translate(969,521) scale(0.95,1)" font-family='"Liberation Sans", sans-serif' font-size="35.5" fill="#000" stroke="#000" stroke-width="0.65">2</text>
<text transform="translate(1241,60) scale(0.9,1)" font-family='"Liberation Sans", sans-serif' font-size="35.5" fill="#000" stroke="#000" stroke-width="0.65">3</text>
<text transform="translate(1448.5,256) scale(1.02,1)" font-family='"Liberation Sans", sans-serif' font-size="35.5" fill="#000" stroke="#000" stroke-width="0.65">4</text>
<text transform="translate(1493,33) scale(0.9,1)" font-family='"Liberation Sans", sans-serif' font-size="35.5" fill="#000" stroke="#000" stroke-width="0.65">5</text>
<path d="M948.6,387 L948.6,367.6 L943.4,371.3 L943,366.6 L949.6,362 L953,362 L953,387 Z" fill="#000"/>
<polygon points="1532,0 1541.2,0 1541.2,0.6 1536.6,5.2 1532,1.4" fill="#778899"/>
<g fill="#00bfff" shape-rendering="crispEdges"><rect x="2" y="662" width="4" height="47"/><rect x="10" y="662" width="4" height="47"/><rect x="18" y="663" width="4" height="46"/><rect x="26" y="664" width="4" height="45"/><rect x="34" y="665" width="4" height="44"/><rect x="42" y="667" width="4" height="42"/><rect x="50" y="667" width="4" height="42"/><rect x="58" y="667" width="4" height="42"/><rect x="66" y="670" width="4" height="39"/><rect x="74" y="671" width="4" height="38"/><rect x="82" y="672" width="4" height="37"/><rect x="90" y="674" width="4" height="35"/><rect x="98" y="676" width="4" height="33"/><rect x="106" y="679" width="4" height="30"/><rect x="114" y="683" width="4" height="26"/><rect x="122" y="685" width="4" height="24"/><rect x="130" y="682" width="4" height="27"/><rect x="138" y="678" width="4" height="31"/><rect x="146" y="672" width="4" height="37"/><rect x="154" y="668" width="4" height="41"/><rect x="162" y="665" width="4" height="44"/><rect x="170" y="664" width="4" height="45"/><rect x="178" y="660" width="4" height="49"/><rect x="186" y="656" width="4" height="53"/><rect x="194" y="654" width="4" height="55"/><rect x="202" y="656" width="4" height="53"/><rect x="210" y="656" width="4" height="53"/><rect x="218" y="660" width="4" height="49"/><rect x="226" y="660" width="4" height="49"/><rect x="234" y="661" width="4" height="48"/><rect x="242" y="666" width="4" height="43"/><rect x="250" y="668" width="4" height="41"/><rect x="258" y="672" width="4" height="37"/><rect x="266" y="673" width="4" height="36"/><rect x="274" y="674" width="4" height="35"/><rect x="282" y="676" width="4" height="33"/><rect x="290" y="678" width="4" height="31"/><rect x="298" y="680" width="4" height="29"/><rect x="306" y="681" width="4" height="28"/><rect x="314" y="682" width="4" height="27"/><rect x="322" y="682" width="4" height="27"/><rect x="330" y="683" width="4" height="26"/><rect x="338" y="685" width="4" height="24"/><rect x="346" y="686" width="4" height="23"/><rect x="354" y="685" width="4" height="24"/><rect x="362" y="687" width="4" height="22"/><rect x="370" y="688" width="4" height="21"/><rect x="378" y="693" width="4" height="16"/><rect x="386" y="699" width="4" height="10"/><rect x="394" y="704" width="4" height="5"/><rect x="402" y="709" width="4" height="1"/><rect x="410" y="709" width="4" height="5"/><rect x="418" y="709" width="4" height="9"/><rect x="426" y="709" width="4" height="18"/><rect x="434" y="709" width="4" height="25"/><rect x="442" y="709" width="4" height="31"/><rect x="450" y="709" width="4" height="35"/><rect x="458" y="709" width="4" height="36"/><rect x="466" y="709" width="4" height="37"/><rect x="474" y="709" width="4" height="34"/><rect x="482" y="709" width="4" height="34"/><rect x="490" y="709" width="4" height="36"/><rect x="498" y="709" width="4" height="33"/><rect x="506" y="709" width="4" height="34"/><rect x="514" y="709" width="4" height="34"/><rect x="522" y="709" width="4" height="32"/><rect x="530" y="709" width="4" height="30"/><rect x="538" y="709" width="4" height="27"/><rect x="546" y="709" width="4" height="28"/><rect x="554" y="709" width="4" height="25"/><rect x="562" y="709" width="4" height="24"/><rect x="570" y="709" width="4" height="21"/><rect x="578" y="709" width="4" height="22"/><rect x="586" y="709" width="4" height="21"/><rect x="594" y="709" width="4" height="20"/><rect x="602" y="709" width="4" height="19"/><rect x="610" y="709" width="4" height="20"/><rect x="618" y="709" width="4" height="20"/><rect x="626" y="709" width="4" height="26"/><rect x="634" y="709" width="4" height="29"/><rect x="642" y="709" width="4" height="30"/><rect x="650" y="709" width="4" height="30"/><rect x="658" y="709" width="4" height="29"/><rect x="666" y="709" width="4" height="27"/><rect x="674" y="709" width="4" height="26"/><rect x="682" y="709" width="4" height="26"/><rect x="690" y="709" width="4" height="24"/><rect x="698" y="709" width="4" height="23"/><rect x="706" y="709" width="4" height="22"/><rect x="714" y="709" width="4" height="25"/><rect x="722" y="709" width="4" height="30"/><rect x="730" y="709" width="4" height="31"/><rect x="738" y="709" width="4" height="31"/><rect x="746" y="709" width="4" height="28"/><rect x="754" y="709" width="4" height="31"/><rect x="762" y="709" width="4" height="31"/><rect x="770" y="709" width="4" height="32"/><rect x="778" y="709" width="4" height="32"/><rect x="786" y="709" width="4" height="31"/><rect x="794" y="709" width="4" height="30"/><rect x="802" y="709" width="4" height="29"/><rect x="810" y="709" width="4" height="30"/><rect x="818" y="709" width="4" height="35"/><rect x="826" y="709" width="4" height="37"/><rect x="834" y="709" width="4" height="38"/><rect x="842" y="709" width="4" height="37"/><rect x="850" y="709" width="4" height="35"/><rect x="858" y="709" width="4" height="35"/><rect x="866" y="709" width="4" height="34"/><rect x="874" y="709" width="4" height="41"/><rect x="882" y="709" width="4" height="41"/><rect x="890" y="709" width="4" height="38"/><rect x="898" y="709" width="4" height="36"/><rect x="906" y="709" width="4" height="34"/><rect x="914" y="709" width="4" height="28"/><rect x="922" y="709" width="4" height="23"/><rect x="930" y="709" width="4" height="18"/><rect x="938" y="709" width="4" height="16"/><rect x="946" y="709" width="4" height="10"/><rect x="954" y="709" width="4" height="6"/><rect x="962" y="709" width="4" height="5"/><rect x="970" y="709" width="4" height="4"/><rect x="978" y="709" width="4" height="1"/><rect x="986" y="708" width="4" height="1"/><rect x="994" y="706" width="4" height="3"/><rect x="1002" y="704" width="4" height="5"/><rect x="1010" y="699" width="4" height="10"/><rect x="1018" y="695" width="4" height="14"/><rect x="1026" y="692" width="4" height="17"/><rect x="1034" y="690" width="4" height="19"/><rect x="1042" y="688" width="4" height="21"/><rect x="1050" y="686" width="4" height="23"/><rect x="1058" y="684" width="4" height="25"/><rect x="1066" y="684" width="4" height="25"/><rect x="1074" y="684" width="4" height="25"/><rect x="1082" y="688" width="4" height="21"/><rect x="1090" y="690" width="4" height="19"/><rect x="1098" y="691" width="4" height="18"/><rect x="1106" y="690" width="4" height="19"/><rect x="1114" y="687" width="4" height="22"/><rect x="1122" y="683" width="4" height="26"/><rect x="1130" y="675" width="4" height="34"/><rect x="1138" y="665" width="4" height="44"/><rect x="1146" y="660" width="4" height="49"/><rect x="1154" y="657" width="4" height="52"/><rect x="1162" y="652" width="4" height="57"/><rect x="1170" y="649" width="4" height="60"/><rect x="1178" y="648" width="4" height="61"/><rect x="1186" y="646" width="4" height="63"/><rect x="1194" y="646" width="4" height="63"/><rect x="1202" y="646" width="4" height="63"/><rect x="1210" y="645" width="4" height="64"/><rect x="1218" y="647" width="4" height="62"/><rect x="1226" y="648" width="4" height="61"/><rect x="1234" y="648" width="4" height="61"/><rect x="1242" y="648" width="4" height="61"/><rect x="1250" y="649" width="4" height="60"/><rect x="1258" y="651" width="4" height="58"/><rect x="1266" y="652" width="4" height="57"/><rect x="1274" y="655" width="4" height="54"/><rect x="1282" y="659" width="4" height="50"/><rect x="1290" y="664" width="4" height="45"/><rect x="1298" y="668" width="4" height="41"/><rect x="1306" y="672" width="4" height="37"/><rect x="1314" y="673" width="4" height="36"/><rect x="1322" y="674" width="4" height="35"/><rect x="1330" y="680" width="4" height="29"/><rect x="1338" y="687" width="4" height="22"/><rect x="1346" y="693" width="4" height="16"/><rect x="1354" y="696" width="4" height="13"/><rect x="1362" y="699" width="4" height="10"/><rect x="1370" y="699" width="4" height="10"/><rect x="1378" y="697" width="4" height="12"/><rect x="1386" y="694" width="4" height="15"/><rect x="1394" y="696" width="4" height="13"/><rect x="1402" y="698" width="4" height="11"/><rect x="1410" y="700" width="4" height="9"/><rect x="1418" y="702" width="4" height="7"/><rect x="1426" y="702" width="4" height="7"/><rect x="1434" y="704" width="4" height="5"/><rect x="1442" y="707" width="4" height="2"/><rect x="1450" y="708" width="4" height="1"/><rect x="1458" y="709" width="4" height="2"/><rect x="1466" y="709" width="4" height="3"/><rect x="1474" y="709" width="4" height="2"/><rect x="1482" y="709" width="4" height="1"/><rect x="1490" y="706" width="4" height="3"/><rect x="1498" y="701" width="4" height="8"/><rect x="1506" y="697" width="4" height="12"/><rect x="1514" y="693" width="4" height="16"/><rect x="1522" y="689" width="4" height="20"/><rect x="1530" y="688" width="4" height="21"/></g>
<line x1="0" y1="709.5" x2="1865" y2="709.5" stroke="#778899" stroke-dasharray="3 3" stroke-dashoffset="4" shape-rendering="crispEdges"/>
<polyline points="0.0,669.1 10.0,666.3 20.0,665.0 28.3,663.6 41.6,663.6 50.0,663.8 60.0,664.6 68.2,664.6 76.6,665.8 84.9,668.0 93.2,669.1 106.5,670.8 116.5,672.9 126.5,675.8 134.8,677.4 143.1,677.9 149.8,677.8 158.1,676.6 166.4,675.4 174.8,673.6 183.1,670.8 191.4,667.5 199.7,664.1 208.1,661.6 216.4,660.3 226.4,659.1 236.3,658.6 244.7,658.8 253.0,660.0 266.6,663.3 283.3,668.0 300.0,672.0 316.6,675.8 333.2,679.1 349.9,680.8 366.5,682.9 380.0,685.9 395.4,689.5 412.8,696.1 423.0,701.3 433.3,707.9 441.5,714.1 451.7,721.2 462.0,727.9 472.2,734.0 482.5,738.1 492.7,741.2 508.0,743.8 523.3,744.0 540.0,741.5 554.9,739.9 563.2,739.0 573.2,736.5 588.2,733.2 603.2,731.9 619.8,729.9 626.5,729.9 638.1,731.5 653.1,733.5 666.4,735.2 676.4,735.9 683.1,735.9 691.4,736.9 699.7,735.9 708.0,735.9 716.4,734.5 729.7,734.5 739.7,735.9 750.0,735.7 766.6,737.4 788.3,739.9 816.6,739.9 838.2,741.9 859.9,743.5 876.5,745.7 893.1,747.3 904.8,746.5 923.1,744.0 939.7,739.0 949.7,734.9 963.0,728.2 979.7,720.7 996.3,714.1 1010.0,710.7 1020.0,706.9 1030.0,703.2 1041.6,698.2 1051.6,695.2 1059.9,692.4 1069.9,689.6 1079.9,687.9 1091.5,686.6 1106.5,686.6 1116.5,686.6 1126.5,686.3 1136.5,684.1 1146.5,680.8 1156.5,675.3 1168.1,669.6 1179.8,663.3 1189.7,656.6 1199.7,652.1 1209.7,649.1 1219.7,647.0 1229.7,646.3 1236.4,646.3 1246.3,645.3 1254.7,645.8 1266.6,647.5 1283.3,649.6 1300.0,655.0 1308.3,657.0 1319.9,661.6 1331.6,665.8 1339.9,670.0 1349.9,675.8 1366.5,684.1 1383.2,689.9 1399.8,694.9 1416.5,697.4 1429.8,698.6 1436.5,698.6 1449.8,700.8 1463.1,704.1 1474.7,706.9 1486.4,707.4 1499.7,707.4 1513.0,705.7 1523.0,703.2 1531.3,701.3" fill="none" stroke="#ff0000" stroke-width="2.6" stroke-linejoin="round"/>
<g stroke="#000" stroke-width="1" shape-rendering="crispEdges"><line x1="1861.5" y1="0" x2="1861.5" y2="633"/><line x1="0" y1="632.5" x2="1862" y2="632.5"/><line x1="0" y1="634.5" x2="1862" y2="634.5"/><line x1="1861.5" y1="634" x2="1861.5" y2="762"/><line x1="0" y1="761.5" x2="1862" y2="761.5"/><line x1="1862" y1="11.5" x2="1866" y2="11.5"/><line x1="1862" y1="44.5" x2="1866" y2="44.5"/><line x1="1862" y1="77.5" x2="1866" y2="77.5"/><line x1="1862" y1="109.5" x2="1866" y2="109.5"/><line x1="1862" y1="142.5" x2="1866" y2="142.5"/><line x1="1862" y1="175.5" x2="1866" y2="175.5"/><line x1="1862" y1="207.5" x2="1866" y2="207.5"/><line x1="1862" y1="240.5" x2="1866" y2="240.5"/><line x1="1862" y1="273.5" x2="1866" y2="273.5"/><line x1="1862" y1="305.5" x2="1866" y2="305.5"/><line x1="1862" y1="338.5" x2="1866" y2="338.5"/><line x1="1862" y1="371.5" x2="1866" y2="371.5"/><line x1="1862" y1="403.5" x2="1866" y2="403.5"/><line x1="1862" y1="436.5" x2="1866" y2="436.5"/><line x1="1862" y1="469.5" x2="1866" y2="469.5"/><line x1="1862" y1="501.5" x2="1866" y2="501.5"/><line x1="1862" y1="534.5" x2="1866" y2="534.5"/><line x1="1862" y1="567.5" x2="1866" y2="567.5"/><line x1="1862" y1="599.5" x2="1866" y2="599.5"/><line x1="1862" y1="635.5" x2="1866" y2="635.5"/><line x1="1862" y1="760.5" x2="1866" y2="760.5"/><line x1="60.5" y1="762" x2="60.5" y2="766"/><line x1="124.5" y1="762" x2="124.5" y2="766"/><line x1="188.5" y1="762" x2="188.5" y2="766"/><line x1="252.5" y1="762" x2="252.5" y2="766"/><line x1="316.5" y1="762" x2="316.5" y2="766"/><line x1="380.5" y1="762" x2="380.5" y2="766"/><line x1="444.5" y1="762" x2="444.5" y2="766"/><line x1="508.5" y1="762" x2="508.5" y2="766"/><line x1="572.5" y1="762" x2="572.5" y2="766"/><line x1="636.5" y1="762" x2="636.5" y2="766"/><line x1="700.5" y1="762" x2="700.5" y2="766"/><line x1="764.5" y1="762" x2="764.5" y2="766"/><line x1="828.5" y1="762" x2="828.5" y2="766"/><line x1="892.5" y1="762" x2="892.5" y2="766"/><line x1="956.5" y1="762" x2="956.5" y2="766"/><line x1="1020.5" y1="762" x2="1020.5" y2="766"/><line x1="1084.5" y1="762" x2="1084.5" y2="766"/><line x1="1148.5" y1="762" x2="1148.5" y2="766"/><line x1="1212.5" y1="762" x2="1212.5" y2="766"/><line x1="1276.5" y1="762" x2="1276.5" y2="766"/><line x1="1340.5" y1="762" x2="1340.5" y2="766"/><line x1="1404.5" y1="762" x2="1404.5" y2="766"/><line x1="1468.5" y1="762" x2="1468.5" y2="766"/><line x1="1532.5" y1="762" x2="1532.5" y2="766"/></g>
<g font-family='"Liberation Sans", sans-serif' font-size="10" fill="#000" stroke="#000" stroke-width="0.18"><text x="1868" y="15" textLength="32" lengthAdjust="spacingAndGlyphs">185.760</text><text x="1868" y="48" textLength="32" lengthAdjust="spacingAndGlyphs">185.600</text><text x="1868" y="81" textLength="32" lengthAdjust="spacingAndGlyphs">185.440</text><text x="1868" y="113" textLength="32" lengthAdjust="spacingAndGlyphs">185.280</text><text x="1868" y="146" textLength="32" lengthAdjust="spacingAndGlyphs">185.120</text><text x="1868" y="179" textLength="32" lengthAdjust="spacingAndGlyphs">184.960</text><text x="1868" y="211" textLength="32" lengthAdjust="spacingAndGlyphs">184.800</text><text x="1868" y="244" textLength="32" lengthAdjust="spacingAndGlyphs">184.640</text><text x="1868" y="277" textLength="32" lengthAdjust="spacingAndGlyphs">184.480</text><text x="1868" y="309" textLength="32" lengthAdjust="spacingAndGlyphs">184.320</text><text x="1868" y="342" textLength="32" lengthAdjust="spacingAndGlyphs">184.160</text><text x="1868" y="375" textLength="32" lengthAdjust="spacingAndGlyphs">184.000</text><text x="1868" y="407" textLength="32" lengthAdjust="spacingAndGlyphs">183.840</text><text x="1868" y="440" textLength="32" lengthAdjust="spacingAndGlyphs">183.680</text><text x="1868" y="473" textLength="32" lengthAdjust="spacingAndGlyphs">183.520</text><text x="1868" y="505" textLength="32" lengthAdjust="spacingAndGlyphs">183.360</text><text x="1868" y="538" textLength="32" lengthAdjust="spacingAndGlyphs">183.200</text><text x="1868" y="571" textLength="32" lengthAdjust="spacingAndGlyphs">183.040</text><text x="1868" y="603" textLength="32" lengthAdjust="spacingAndGlyphs">182.880</text><text x="1867" y="643" textLength="28" lengthAdjust="spacingAndGlyphs">0.4335</text><text x="1867" y="713" textLength="28" lengthAdjust="spacingAndGlyphs">0.0000</text><text x="1867" y="760" textLength="31" lengthAdjust="spacingAndGlyphs">-0.2988</text><text x="-5" y="774" textLength="51" lengthAdjust="spacingAndGlyphs">12 Jan 2026</text><text x="60.5" y="774" textLength="53" lengthAdjust="spacingAndGlyphs">12 Jan 18:00</text><text x="124.5" y="774" textLength="53" lengthAdjust="spacingAndGlyphs">13 Jan 02:00</text><text x="188.5" y="774" textLength="53" lengthAdjust="spacingAndGlyphs">13 Jan 10:00</text><text x="252.5" y="774" textLength="53" lengthAdjust="spacingAndGlyphs">13 Jan 18:00</text><text x="316.5" y="774" textLength="53" lengthAdjust="spacingAndGlyphs">14 Jan 02:00</text><text x="380.5" y="774" textLength="53" lengthAdjust="spacingAndGlyphs">14 Jan 10:00</text><text x="444.5" y="774" textLength="53" lengthAdjust="spacingAndGlyphs">14 Jan 18:00</text><text x="508.5" y="774" textLength="53" lengthAdjust="spacingAndGlyphs">15 Jan 02:00</text><text x="572.5" y="774" textLength="53" lengthAdjust="spacingAndGlyphs">15 Jan 10:00</text><text x="636.5" y="774" textLength="53" lengthAdjust="spacingAndGlyphs">15 Jan 18:00</text><text x="700.5" y="774" textLength="53" lengthAdjust="spacingAndGlyphs">16 Jan 02:00</text><text x="764.5" y="774" textLength="53" lengthAdjust="spacingAndGlyphs">16 Jan 10:00</text><text x="828.5" y="774" textLength="53" lengthAdjust="spacingAndGlyphs">16 Jan 18:00</text><text x="892.5" y="774" textLength="53" lengthAdjust="spacingAndGlyphs">19 Jan 02:00</text><text x="956.5" y="774" textLength="53" lengthAdjust="spacingAndGlyphs">19 Jan 10:00</text><text x="1020.5" y="774" textLength="53" lengthAdjust="spacingAndGlyphs">19 Jan 18:00</text><text x="1084.5" y="774" textLength="53" lengthAdjust="spacingAndGlyphs">20 Jan 02:00</text><text x="1148.5" y="774" textLength="53" lengthAdjust="spacingAndGlyphs">20 Jan 10:00</text><text x="1212.5" y="774" textLength="53" lengthAdjust="spacingAndGlyphs">20 Jan 18:00</text><text x="1276.5" y="774" textLength="53" lengthAdjust="spacingAndGlyphs">21 Jan 02:00</text><text x="1340.5" y="774" textLength="53" lengthAdjust="spacingAndGlyphs">21 Jan 10:00</text><text x="1404.5" y="774" textLength="53" lengthAdjust="spacingAndGlyphs">21 Jan 18:00</text><text x="1468.5" y="774" textLength="53" lengthAdjust="spacingAndGlyphs">22 Jan 02:00</text><text x="1532.5" y="774" textLength="53" lengthAdjust="spacingAndGlyphs">22 Jan 10:00</text><text x="1" y="647" textLength="125" lengthAdjust="spacingAndGlyphs">MACD(12,26,9) 0.1235 0.0481</text><text x="42" y="14" textLength="107" lengthAdjust="spacingAndGlyphs">EURJPY, H1: Euro vs Yen</text></g>
<rect x="1864" y="53" width="39" height="11" fill="#778899"/>
<text x="1868" y="62" font-family='"Liberation Sans", sans-serif' font-size="10" fill="#fff" stroke="#fff" stroke-width="0.2" textLength="32" lengthAdjust="spacingAndGlyphs">185.533</text>
<g shape-rendering="crispEdges">
<rect x="1" y="5" width="7" height="11" fill="#ff4848"/>
<rect x="8" y="5" width="8" height="11" fill="#2c82ff"/>
<rect x="2" y="6" width="13" height="9" fill="#1c1612"/>
<rect x="3" y="7" width="5" height="7" fill="#321c12"/>
<rect x="8" y="7" width="6" height="7" fill="#061a2c"/>
<rect x="3" y="7" width="5" height="1" fill="#ff4848"/><rect x="3" y="10" width="5" height="1" fill="#ff4848"/><rect x="3" y="13" width="5" height="1" fill="#ff4848"/>
<rect x="9" y="7" width="5" height="1" fill="#2c82ff"/><rect x="9" y="10" width="5" height="1" fill="#2c82ff"/><rect x="9" y="13" width="5" height="1" fill="#2c82ff"/>
<rect x="22" y="5" width="4" height="11" fill="#ff4848"/><rect x="26" y="9" width="3" height="7" fill="#ff4848"/>
<rect x="23" y="6" width="2" height="9" fill="#3e1c10"/><rect x="23" y="10" width="5" height="5" fill="#3e1c10"/>
<rect x="33" y="5" width="4" height="11" fill="#2c82ff"/><rect x="30" y="9" width="3" height="7" fill="#2c82ff"/>
<rect x="34" y="6" width="2" height="9" fill="#06203e"/><rect x="31" y="10" width="5" height="5" fill="#06203e"/>
<rect x="27" y="5" width="5" height="3" fill="#c8c8c8"/><rect x="28" y="6" width="3" height="1" fill="#333"/>
</g>
<defs>
<linearGradient id="gt" x1="0" y1="0" x2="0" y2="1"><stop offset="0" stop-color="#a05a60"/><stop offset="1" stop-color="#86424a"/></linearGradient>
<linearGradient id="gb" x1="0" y1="0" x2="0" y2="1"><stop offset="0" stop-color="#84404a"/><stop offset="1" stop-color="#5c1218"/></linearGradient>
</defs>
<g shape-rendering="crispEdges">
<rect x="0" y="21" width="189" height="57" fill="#fff"/>
<rect x="0.5" y="21.5" width="43" height="23" fill="url(#gt)" stroke="#c04848"/>
<rect x="143.5" y="21.5" width="43" height="23" fill="url(#gt)" stroke="#c04848"/>
<rect x="0.5" y="43.5" width="92" height="34" fill="url(#gb)" stroke="#c04848"/>
<rect x="95.5" y="43.5" width="91" height="34" fill="url(#gb)" stroke="#c04848"/>
<rect x="1" y="44" width="42" height="1" fill="#8a4850"/>
<rect x="144" y="44" width="42" height="1" fill="#8a4850"/>
<rect x="4" y="43" width="36" height="1" fill="#f0a0a0"/>
<rect x="147" y="43" width="36" height="1" fill="#f0a0a0"/>
<rect x="46.5" y="21.5" width="94" height="19" fill="#2c2c2c" stroke="#b8b8b8"/>
<rect x="65" y="22" width="1" height="18" fill="#9a9a9a"/>
<rect x="121" y="22" width="1" height="18" fill="#9a9a9a"/>
</g>
<polygon points="53,29 59,29 56,33" fill="#fff"/><polygon points="128,32.5 134,32.5 131,28.5" fill="#fff"/>
<g font-family='"Liberation Sans", sans-serif' fill="#dcdcdc">
<text x="9" y="36" font-size="13" textLength="23.5" lengthAdjust="spacingAndGlyphs">SELL</text>
<text x="153" y="36" font-size="13" textLength="21.5" lengthAdjust="spacingAndGlyphs">BUY</text>
<text x="96.5" y="35" font-size="11.5" fill="#e8e8e8" textLength="22.5" lengthAdjust="spacingAndGlyphs">0.50</text>
<text x="17.5" y="72" font-size="11" textLength="19" lengthAdjust="spacingAndGlyphs">185</text>
<text x="111.5" y="72" font-size="11" textLength="19" lengthAdjust="spacingAndGlyphs">185</text>
<text x="40.5" y="72" font-size="31" textLength="33.5" lengthAdjust="spacingAndGlyphs">53</text>
<text x="135.5" y="72" font-size="31" textLength="33.5" lengthAdjust="spacingAndGlyphs">54</text>
<text x="77" y="59" font-size="10">3</text>
<text x="172" y="59" font-size="10">3</text>
</g></svg>
</body></html>
